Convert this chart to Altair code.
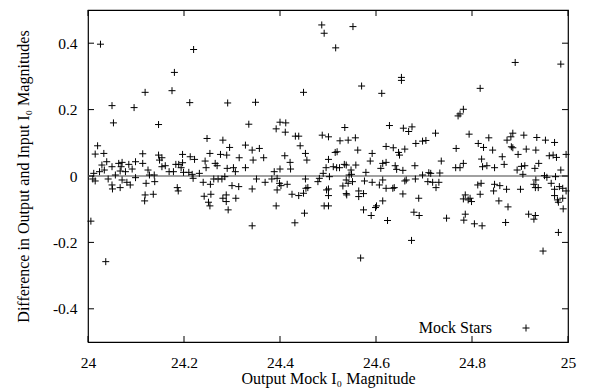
import altair as alt
import pandas as pd

# ---- data: (output mock I0 magnitude, output - input difference) ----
mag_outliers = [24.026, 24.220, 24.180, 24.175, 24.119, 24.212, 24.050, 24.096, 24.053, 24.147,
                24.487, 24.492, 24.449, 24.291, 24.349, 24.335, 24.400, 24.412, 24.552, 24.516,
                24.653, 24.653, 24.570, 24.612, 24.890, 24.985, 24.817, 24.782, 24.775, 24.771,
                24.037, 24.568, 24.674, 24.948]
diff_outliers = [0.397, 0.381, 0.312, 0.257, 0.252, 0.221, 0.212, 0.206, 0.160, 0.155,
                 0.455, 0.430, 0.252, 0.220, 0.222, 0.156, 0.162, 0.160, 0.450, 0.386,
                 0.297, 0.288, 0.271, 0.249, 0.342, 0.337, 0.264, 0.201, 0.187, 0.181,
                 -0.258, -0.247, -0.194, -0.226]

mag_left = [24.392, 24.411, 24.432, 24.439, 24.488, 24.020, 24.015, 24.033, 24.248, 24.281,
            24.295, 24.328, 24.342, 24.357, 24.442, 24.453, 24.456, 24.114, 24.147, 24.154,
            24.149, 24.197, 24.213, 24.222, 24.254, 24.276, 24.289, 24.315, 24.344, 24.366,
            24.410, 24.421, 24.029, 24.039, 24.050, 24.064, 24.071, 24.069, 24.085, 24.099,
            24.092, 24.114, 24.125, 24.161, 24.154, 24.183, 24.189, 24.197, 24.194, 24.169,
            24.178, 24.199, 24.210, 24.217, 24.232, 24.244, 24.246, 24.265, 24.269, 24.290,
            24.303, 24.307, 24.328, 24.388, 24.400, 24.422, 24.496, 24.490, 24.034, 24.012,
            24.057, 24.067, 24.078, 24.024, 24.128, 24.138,
            24.010, 24.015, 24.042, 24.050, 24.051, 24.067, 24.071, 24.081, 24.088, 24.099, 24.121, 24.139,
            24.186, 24.188, 24.219, 24.240, 24.255, 24.262, 24.271, 24.279, 24.285, 24.300,
            24.314, 24.342, 24.351, 24.369, 24.383, 24.394, 24.399, 24.402, 24.415, 24.394,
            24.453, 24.454, 24.479, 24.482, 24.497,
            24.118, 24.119, 24.136, 24.242, 24.256, 24.251, 24.254, 24.281, 24.288, 24.288,
            24.292, 24.308, 24.425, 24.439, 24.449, 24.458, 24.392, 24.451, 24.492, 24.342,
            24.431, 24.006]
diff_left = [0.142, 0.132, 0.120, 0.120, 0.123, 0.091, 0.066, 0.068, 0.113, 0.108,
             0.086, 0.093, 0.078, 0.083, 0.091, 0.068, 0.048, 0.067, 0.063, 0.055,
             0.048, 0.065, 0.058, 0.050, 0.068, 0.065, 0.063, 0.055, 0.048, 0.055,
             0.061, 0.041, 0.033, 0.043, 0.028, 0.038, 0.041, 0.028, 0.035, 0.043,
             0.021, 0.038, 0.018, 0.031, 0.028, 0.035, 0.035, 0.040, 0.025, 0.013,
             0.013, 0.011, 0.011, 0.005, 0.008, 0.045, 0.025, 0.038, 0.031, 0.023,
             0.025, 0.013, 0.025, 0.013, 0.021, 0.021, 0.025, 0.008, 0.018, 0.008,
             0.003, 0.015, 0.013, 0.013, 0.003, 0.003,
             -0.009, -0.015, -0.009, -0.027, -0.039, -0.035, -0.012, -0.019, -0.027, -0.005, -0.022, -0.017,
             -0.035, -0.045, -0.007, -0.019, -0.025, -0.009, -0.009, -0.009, -0.002, -0.029,
             -0.032, -0.039, -0.009, -0.019, -0.009, -0.007, -0.022, -0.029, -0.025, -0.042,
             -0.009, -0.037, -0.017, -0.007, -0.042,
             -0.075, -0.057, -0.055, -0.061, -0.055, -0.079, -0.090, -0.067, -0.057, -0.077,
             -0.102, -0.067, -0.055, -0.059, -0.052, -0.035, -0.090, -0.112, -0.090, -0.150,
             -0.141, -0.136]

mag_right = [24.535, 24.628, 24.657, 24.675, 24.668, 24.724, 24.501, 24.525, 24.542, 24.557,
             24.794, 24.835, 24.885, 24.881, 24.908, 24.935, 24.953, 24.972, 24.873, 24.515,
             24.519, 24.562, 24.592, 24.621, 24.636, 24.647, 24.649, 24.660, 24.683, 24.697,
             24.704, 24.767, 24.813, 24.824, 24.843, 24.882, 24.885, 24.896, 24.913, 24.933,
             24.863, 24.961, 24.969, 24.976, 24.996, 24.501,
             24.511, 24.518, 24.524, 24.534, 24.538, 24.548, 24.558, 24.588, 24.579, 24.610,
             24.614, 24.621, 24.640, 24.643, 24.656, 24.681, 24.736, 24.766, 24.775, 24.782,
             24.820, 24.822, 24.831, 24.847, 24.867, 24.894, 24.903, 24.910, 24.906, 24.931,
             24.939, 24.985,
             24.503, 24.544, 24.549, 24.538, 24.542, 24.531, 24.551, 24.576, 24.592, 24.607,
             24.614, 24.621, 24.635, 24.638, 24.660, 24.663, 24.682, 24.697, 24.710, 24.714,
             24.708, 24.718, 24.731, 24.725, 24.733, 24.812, 24.819, 24.817, 24.847, 24.858,
             24.845, 24.872, 24.901, 24.929, 24.933, 24.932, 24.938, 24.951, 24.956, 24.974,
             24.965, 24.972, 24.982, 24.989, 24.996, 24.972, 24.978, 24.989, 24.980,
             24.501, 24.501, 24.538, 24.539, 24.564, 24.564, 24.574, 24.614, 24.656, 24.689,
             24.786, 24.796, 24.792, 24.799, 24.782, 24.856, 24.501, 24.574, 24.590, 24.599,
             24.601, 24.624, 24.679, 24.690, 24.747, 24.786, 24.783, 24.805, 24.821, 24.870,
             24.918, 24.932, 24.929, 24.875, 24.990, 24.980]
diff_right = [0.146, 0.152, 0.144, 0.148, 0.134, 0.129, 0.118, 0.106, 0.108, 0.115,
              0.126, 0.115, 0.129, 0.118, 0.123, 0.116, 0.108, 0.101, 0.108, 0.071,
              0.073, 0.078, 0.068, 0.089, 0.085, 0.071, 0.063, 0.081, 0.098, 0.105,
              0.107, 0.083, 0.098, 0.086, 0.078, 0.088, 0.085, 0.065, 0.081, 0.078,
              0.058, 0.061, 0.063, 0.056, 0.065, 0.050,
              0.028, 0.025, 0.025, 0.035, 0.033, 0.018, 0.033, 0.045, 0.011, 0.023,
              0.038, 0.041, 0.031, 0.020, 0.017, 0.031, 0.045, 0.025, 0.025, 0.038,
              0.051, 0.028, 0.031, 0.025, 0.035, 0.018, 0.029, 0.031, 0.005, 0.023,
              0.038, 0.018,
              -0.002, 0.003, 0.005, -0.012, -0.022, -0.030, -0.017, -0.015, -0.019, -0.027,
              -0.012, -0.037, -0.037, -0.035, -0.015, -0.012, -0.009, 0.003, 0.010, 0.008,
              -0.017, -0.019, -0.019, -0.035, 0.009, -0.027, -0.022, -0.055, -0.025, -0.029,
              -0.045, -0.040, -0.040, -0.025, -0.012, -0.035, -0.035, 0.001, -0.004, -0.002,
              -0.022, -0.040, -0.032, -0.037, -0.045, -0.059, -0.072, -0.067, -0.079,
              -0.039, -0.059, -0.053, -0.057, -0.045, -0.062, -0.053, -0.075, -0.054, -0.067,
              -0.057, -0.067, -0.072, -0.077, -0.069, -0.075, -0.090, -0.102, -0.119, -0.095,
              -0.090, -0.134, -0.109, -0.119, -0.127, -0.115, -0.133, -0.144, -0.150, -0.140,
              -0.115, -0.119, -0.130, -0.093, -0.099, -0.170]

x_ticks = [24.0, 24.2, 24.4, 24.6, 24.8, 25.0]
y_ticks = [-0.4, -0.2, 0.0, 0.2, 0.4]
x_domain = [24, 25]
y_domain = [-0.5, 0.5]
legend_label = "Mock Stars"

x_title = "Output Mock I₀ Magnitude"
y_title = "Difference in Output and Input I₀ Magnitudes"

FONT = "Liberation Serif"
LABEL_SIZE = 15.5
TITLE_SIZE = 16
W, H = 480, 332
TICK = 6
PLUS = "M-1,0L1,0M0,-1L0,1"

stars = pd.concat([
    pd.DataFrame({"mag": mag_outliers, "diff": diff_outliers}),
    pd.DataFrame({"mag": mag_left, "diff": diff_left}),
    pd.DataFrame({"mag": mag_right, "diff": diff_right}),
], ignore_index=True)

xs = alt.Scale(domain=x_domain, nice=False, zero=False)
ys = alt.Scale(domain=y_domain, nice=False, zero=False)

x_axis = alt.Axis(values=x_ticks, ticks=False, grid=False, domain=False,
                  labelFont=FONT, labelFontSize=LABEL_SIZE, labelColor="black", labelPadding=13,
                  labelExpr="datum.value + ''", labelFlush=False,
                  title=x_title, titleFont=FONT, titleFontSize=TITLE_SIZE, titleFontWeight="normal",
                  titleColor="black", titlePadding=0)
y_axis = alt.Axis(values=y_ticks, ticks=False, grid=False, domain=False,
                  labelFont=FONT, labelFontSize=LABEL_SIZE, labelColor="black", labelPadding=11,
                  labelExpr="datum.value + ''", labelFlush=False,
                  title=y_title, titleFont=FONT, titleFontSize=TITLE_SIZE, titleFontWeight="normal",
                  titleColor="black", titlePadding=21)

points = alt.Chart(stars).mark_point(
    shape=PLUS, size=49, filled=False, stroke="black", strokeWidth=1, opacity=1
).encode(
    x=alt.X("mag:Q", scale=xs, axis=x_axis),
    y=alt.Y("diff:Q", scale=ys, axis=y_axis),
)

zero_df = pd.DataFrame({"y": [0.0]})
zero_line = alt.Chart(zero_df).mark_rule(color="#808080", strokeWidth=1.5).encode(
    y=alt.Y("y:Q", scale=ys), x=alt.value(0), x2=alt.value(W)
)

xt = pd.DataFrame({"t": x_ticks})
yt = pd.DataFrame({"t": y_ticks})
tick_style = dict(color="black", strokeWidth=1)
bottom_ticks = alt.Chart(xt).mark_rule(**tick_style).encode(
    x=alt.X("t:Q", scale=xs), y=alt.value(H), y2=alt.value(H - TICK))
top_ticks = alt.Chart(xt).mark_rule(**tick_style).encode(
    x=alt.X("t:Q", scale=xs), y=alt.value(0), y2=alt.value(TICK))
left_ticks = alt.Chart(yt).mark_rule(**tick_style).encode(
    y=alt.Y("t:Q", scale=ys), x=alt.value(0), x2=alt.value(TICK))
right_ticks = alt.Chart(yt).mark_rule(**tick_style).encode(
    y=alt.Y("t:Q", scale=ys), x=alt.value(W), x2=alt.value(W - TICK))

leg_df = pd.DataFrame({"label": [legend_label]})
leg_text = alt.Chart(leg_df).mark_text(
    font=FONT, fontSize=16, color="black", align="right", baseline="middle"
).encode(text="label:N", x=alt.value(404), y=alt.value(318))
leg_mark = alt.Chart(leg_df).mark_point(
    shape=PLUS, size=49, filled=False, stroke="black", strokeWidth=1, opacity=1
).encode(x=alt.value(438), y=alt.value(318))

chart = alt.layer(
    zero_line, bottom_ticks, top_ticks, left_ticks, right_ticks, points, leg_text, leg_mark
).properties(
    width=W, height=H,
    autosize=alt.AutoSizeParams(type="none"),
    padding={"left": 88, "top": 10, "right": 27, "bottom": 50},
    background="white",
).configure_view(stroke="black", strokeWidth=1.2)

chart.save("out.html", embed_options={"renderer": "svg", "actions": False})
